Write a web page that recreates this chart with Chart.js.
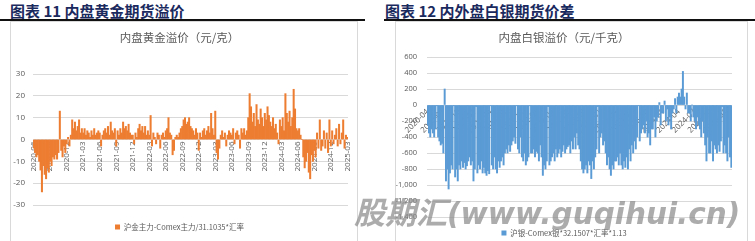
<!DOCTYPE html>
<html>
<head>
<meta charset="utf-8">
<script src="https://cdn.jsdelivr.net/npm/chart.js@4.4.1/dist/chart.umd.min.js"></script>
<style>
  body { margin:0; width:755px; height:241px; overflow:hidden; background:#fff; position:relative; font-family:"Noto Sans CJK SC", sans-serif; }
  .hd { position:absolute; top:2px; font-weight:bold; font-size:15px; line-height:18px; color:#1b2a5e; white-space:nowrap; }
  .rule { position:absolute; top:19px; height:2px; background:#111; }
  .panel { position:absolute; top:21px; height:240px; border:1px solid #d9d9d9; box-sizing:border-box; }
  canvas { position:absolute; }
  .wm { position:absolute; left:354px; top:188px; white-space:nowrap; color:rgba(140,140,140,0.72); font-weight:bold; z-index:5; }
  .wm .cn { font-family:"Noto Sans CJK SC"; font-size:31px; font-style:italic; }
  .wm .en { font-family:"DejaVu Sans"; font-size:29.5px; font-style:oblique; }
</style>
</head>
<body>
<div class="hd" style="left:10px">图表 11 内盘黄金期货溢价</div>
<div class="rule" style="left:0;width:365px"></div>
<div class="hd" style="left:385px">图表 12 内外盘白银期货价差</div>
<div class="rule" style="left:384px;width:371px"></div>
<div class="panel" style="left:10px;width:348px"></div>
<div class="panel" style="left:395px;width:353px"></div>
<canvas id="gold" width="345" height="240" style="left:11px;top:22px"></canvas>
<canvas id="silver" width="350" height="240" style="left:396px;top:22px"></canvas>
<div class="wm"><span class="cn">股期汇</span><span class="en">(www.guqihui.cn)</span></div>
<script>
// 内盘黄金溢价，每月约4个观测（元/克）
const goldMonths = ["2020-06","2020-07","2020-08","2020-09","2020-10","2020-11","2020-12",
  "2021-01","2021-02","2021-03","2021-04","2021-05","2021-06","2021-07","2021-08","2021-09","2021-10","2021-11","2021-12",
  "2022-01","2022-02","2022-03","2022-04","2022-05","2022-06","2022-07","2022-08","2022-09","2022-10","2022-11","2022-12",
  "2023-01","2023-02","2023-03","2023-04","2023-05","2023-06","2023-07","2023-08","2023-09","2023-10","2023-11","2023-12",
  "2024-01","2024-02","2024-03","2024-04","2024-05","2024-06","2024-07","2024-08","2024-09","2024-10","2024-11","2024-12",
  "2025-01","2025-02","2025-03"];
const goldValues = [
  [-4,-6,-8,-7],[-10,-14,-24,-12],[-16,-18,-13,-15],[-10,-12,-8,-9],[-7,-9,-6,13],[-5,-8,-3,-6],[-2,1,-3,2],
  [9,5,8,4],[6,9,3,5],[3,5,2,4],[3,1,4,2],[5,2,3,4],[3,-3,2,4],[5,3,6,2],[8,4,3,5],[-3,4,2,5],[3,8,5,6],[4,7,3,2],[2,-2,3,1],
  [5,7,4,6],[3,6,2,4],[2,11,-3,3],[1,-2,3,2],[-4,2,3,1],[4,5,10,3],[2,-7,-5,1],[2,1,3,5],[6,9,10,7],[8,10,6,5],[4,2,5,3],[-5,3,1,4],
  [5,2,4,6],[3,12,5,2],[13,-6,-9,-4],[2,4,1,3],[-3,2,4,3],[2,5,-2,3],[4,2,-4,5],[3,5,2,4],[10,21,15,8],[12,6,16,9],[7,14,10,6],[12,9,15,11],
  [8,6,10,5],[7,3,-2,9],[6,10,4,21],[12,8,13,6],[10,23,14,5],[4,5,2,0],[-8,-13,-10,-6],[-15,-18,-7,-10],[-5,-8,3,-4],[9,-5,-3,4],[-4,3,-6,9],[-3,4,-2,2],
  [5,-3,7,-2],[3,9,-4,2],[1]
];
const goldTicks = ["2020-06","2020-09","2020-12","2021-03","2021-06","2021-09","2021-12","2022-03","2022-06","2022-09",
  "2022-12","2023-03","2023-06","2023-09","2023-12","2024-03","2024-06","2024-09","2024-12","2025-03"];

// 内盘白银溢价，每月约4个观测（元/千克）
const silverMonths = ["2020-04","2020-05","2020-06","2020-07","2020-08","2020-09","2020-10","2020-11","2020-12",
  "2021-01","2021-02","2021-03","2021-04","2021-05","2021-06","2021-07","2021-08","2021-09","2021-10","2021-11","2021-12",
  "2022-01","2022-02","2022-03","2022-04","2022-05","2022-06","2022-07","2022-08","2022-09","2022-10","2022-11","2022-12",
  "2023-01","2023-02","2023-03","2023-04","2023-05","2023-06","2023-07","2023-08","2023-09","2023-10","2023-11","2023-12",
  "2024-01","2024-02","2024-03","2024-04","2024-05","2024-06","2024-07","2024-08","2024-09","2024-10","2024-11","2024-12",
  "2025-01","2025-02"];
const silverValues = [
  [-250,-350,-400,-300],[-350,-400,-300,-10],[-400,-450,-500,-480],[-600,200,-950,-800],[-1050,-850,-750,-800],[-10,-900,-800,-950],
  [-750,-800,-700,-780],[-720,-800,-760,-700],[-650,-750,-700,-950],
  [-800,-20,-850,-750],[-800,-700,-850,-780],[-850,-880,-820,-860],[-10,-750,-800,-650],[-800,-850,-700,-780],[-700,-650,-750,-600],
  [-550,-600,-500,-580],[-500,-450,-400,-480],[-10,-550,-600,-400],[-650,-700,-600,-750],[-700,-650,-10,-600],[-600,-550,-650,-580],
  [-600,-700,-500,-650],[-880,-750,-800,-700],[-20,-750,-700,-650],[-600,-700,-550,-650],[-600,-550,-650,-580],[-500,-600,-550,-520],
  [-500,-600,-450,-550],[-400,-550,-350,-500],[-550,-700,-800,-850],[-800,-750,-850,-700],[-750,-920,-700,-800],[-650,-550,-20,-600],
  [-400,-350,-500,-450],[-600,-750,-650,-800],[-880,-750,-800,-700],[-700,-650,-750,-600],[-750,-800,-700,-780],[-650,-800,-550,-700],
  [-500,-600,-450,-550],[-400,-10,-450,-350],[-300,-250,-350,-200],[-400,-350,-500,-300],[-300,-150,-400,-200],[-150,30,-250,-100],
  [-100,50,-200,-50],[-250,-150,-300,-100],[-50,80,-100,100],[150,100,200,420],[100,-50,150,-100],[-100,-200,0,-150],
  [-200,-300,-150,-250],[-300,-400,-200,-350],[-500,-700,-400,-600],[-600,-450,-700,-500],[-550,-600,-500,-580],[-450,-20,-600,-500],
  [-600,-700,-400,-650],[-780]
];
const silverTicks = ["2020-04","2020-07","2020-10","2021-01","2021-04","2021-07","2021-10","2022-01","2022-04","2022-07",
  "2022-10","2023-01","2023-04","2023-07","2023-10","2024-01","2024-04","2024-07","2024-10","2025-01"];

const grey = "#595959";
const gridGrey = "#d9d9d9";
const tickFont = { family: "Open Sans", size: 8 };

function makeChart(id, months, values, ticks, opt) {
  const labels = months.flatMap((m, i) => values[i].map(() => m));
  const data = values.flat();
  return new Chart(document.getElementById(id), {
    type: "bar",
    data: {
      labels: labels,
      datasets: [{
        label: opt.legend,
        data: data,
        backgroundColor: opt.color,
        borderWidth: 0,
        barPercentage: 1,
        categoryPercentage: 1
      }]
    },
    options: {
      responsive: false,
      animation: false,
      devicePixelRatio: 1,
      layout: { padding: { left: 0, right: opt.padRight, top: 0, bottom: opt.padBottom } },
      plugins: {
        title: {
          display: true, text: opt.title, color: grey,
          font: { family: "Noto Sans CJK SC", size: 11.5, weight: "normal", lineHeight: 1.2 },
          padding: { top: 8.6, bottom: opt.titleGap }
        },
        legend: {
          position: "bottom",
          labels: { boxWidth: 5, boxHeight: 5, padding: opt.legendPad, color: grey,
            font: { family: "Noto Sans CJK SC", size: 7.5 } }
        },
        tooltip: { enabled: false }
      },
      scales: {
        x: {
          position: { y: 0 },
          grid: { display: false, drawTicks: false },
          border: { display: false },
          ticks: {
            autoSkip: false, minRotation: opt.rot, maxRotation: opt.rot, padding: 2,
            color: grey, font: tickFont,
            callback: (v, i) => (i === 0 || labels[i - 1] !== labels[i]) && ticks.includes(labels[i]) ? labels[i] : ""
          },
          afterFit: s => { s.paddingLeft = 0; s.paddingRight = 0; }
        },
        y: {
          min: opt.min, max: opt.max,
          grid: { color: gridGrey, drawTicks: false },
          border: { display: false },
          ticks: { stepSize: opt.step, padding: opt.yPad, color: grey, font: { family: "Open Sans", size: opt.ySize } },
          afterFit: s => { s.width = opt.yWidth; }
        }
      }
    }
  });
}

makeChart("gold", goldMonths, goldValues, goldTicks, {
  title: "内盘黄金溢价（元/克）", legend: "沪金主力-Comex主力/31.1035*汇率", color: "#ED7D31",
  min: -30, max: 30, step: 10, rot: 90, yWidth: 22, yPad: 8, ySize: 8,
  padRight: 8, padBottom: 21.25, titleGap: 29.6, legendPad: 18.25
});
makeChart("silver", silverMonths, silverValues, silverTicks, {
  title: "内盘白银溢价（元/千克）", legend: "沪银-Comex银*32.1507*汇率*1.13", color: "#5B9BD5",
  min: -1400, max: 600, step: 200, rot: 45, yWidth: 31, yPad: 10, ySize: 7.5,
  padRight: 14, padBottom: 15.25, titleGap: 12.6, legendPad: 12.25
});
</script>
</body>
</html>
